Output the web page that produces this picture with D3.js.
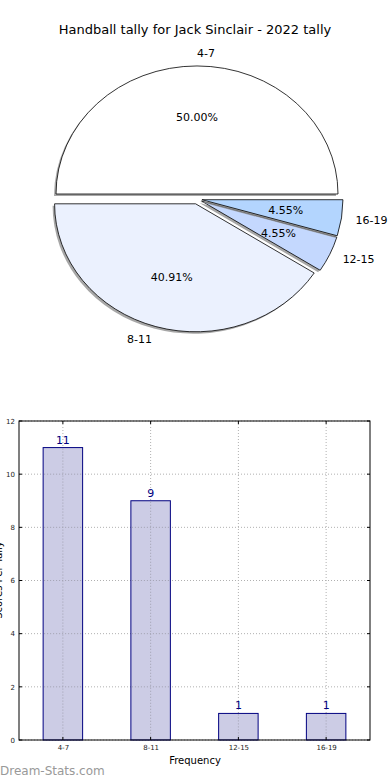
<!DOCTYPE html>
<html>
<head>
<meta charset="utf-8">
<script src="https://cdn.jsdelivr.net/npm/d3@7"></script>
<style>
  body { margin: 0; background: #fff; }
  svg text { font-family: "DejaVu Sans", sans-serif; }
</style>
</head>
<body>
<div id="chart"></div>
<script>
// tally data
var categories = ["4-7", "8-11", "12-15", "16-19"];
var counts = [11, 9, 1, 1];
var pieColors = ["#ffffff", "#ebf1fe", "#c4d8fe", "#b3d5fe"];
var yTicks = [0, 2, 4, 6, 8, 10, 12];

var W = 390, H = 780;
var svg = d3.select("#chart").append("svg")
  .attr("width", W).attr("height", H);

svg.append("text")
  .attr("x", 195).attr("y", 34)
  .attr("text-anchor", "middle")
  .attr("font-size", 13)
  .text("Handball tally for Jack Sinclair - 2022 tally");

// ---- pie ----
var cx = 197, cy = 199, rx = 141, ry = 128, explode = 5;
var total = d3.sum(counts);
var pie = d3.pie().sort(null).startAngle(Math.PI / 2).endAngle(Math.PI / 2 - 2 * Math.PI);
var arcs = pie(counts);
var arc = d3.arc().innerRadius(0).outerRadius(rx);

var pieG = svg.append("g");

arcs.forEach(function (d, i) {
  var mid = (d.startAngle + d.endAngle) / 2;
  var ux = Math.sin(mid), uy = -Math.cos(mid);
  var ox = cx + ux * explode, oy = cy + uy * explode;

  // shadow
  pieG.append("path")
    .attr("d", arc(d))
    .attr("transform", "translate(" + (ox - 2) + "," + (oy + 2) + ") scale(1," + (ry / rx) + ")")
    .attr("fill", "#8a8a8a")
    .attr("opacity", 0.75);

  pieG.append("path")
    .attr("d", arc(d))
    .attr("transform", "translate(" + ox + "," + oy + ") scale(1," + (ry / rx) + ")")
    .attr("fill", pieColors[i])
    .attr("stroke", "#000")
    .attr("stroke-width", 0.8)
    .attr("vector-effect", "non-scaling-stroke");

  // category label at 1.1 r, left/right aligned like matplotlib
  var lx = ox + ux * rx * 1.1, ly = oy + uy * ry * 1.1;
  pieG.append("text")
    .attr("x", lx).attr("y", ly)
    .attr("dy", "0.35em")
    .attr("font-size", 11)
    .attr("text-anchor", ux >= 0 ? "start" : "end")
    .text(categories[i]);

  // percentage at 0.6 r
  pieG.append("text")
    .attr("x", ox + ux * rx * 0.6).attr("y", oy + uy * ry * 0.6)
    .attr("dy", "0.35em")
    .attr("font-size", 11)
    .attr("text-anchor", "middle")
    .text((counts[i] / total * 100).toFixed(2) + "%");
});

// ---- bar chart ----
var plotL = 19, plotR = 370, plotT = 421, plotB = 740;
var x = d3.scaleLinear().domain([-0.5, 3.5]).range([plotL, plotR]);
var y = d3.scaleLinear().domain([0, 12]).range([plotB, plotT]);
var barW = x(0.45) - x(0);

var barG = svg.append("g");

// grid
barG.selectAll(".hgrid").data(yTicks).enter().append("line")
  .attr("x1", plotL).attr("x2", plotR)
  .attr("y1", function (d) { return y(d); }).attr("y2", function (d) { return y(d); })
  .attr("stroke", "#b0b0b0").attr("stroke-width", 1).attr("stroke-dasharray", "1,2");
barG.selectAll(".vgrid").data(categories).enter().append("line")
  .attr("x1", function (d, i) { return x(i); }).attr("x2", function (d, i) { return x(i); })
  .attr("y1", plotT).attr("y2", plotB)
  .attr("stroke", "#b0b0b0").attr("stroke-width", 1).attr("stroke-dasharray", "1,2");

// bars
barG.selectAll(".bar").data(counts).enter().append("rect")
  .attr("x", function (d, i) { return x(i) - barW / 2; })
  .attr("y", function (d) { return y(d); })
  .attr("width", barW)
  .attr("height", function (d) { return plotB - y(d); })
  .attr("fill", "#ccccE5")
  .attr("stroke", "#000080")
  .attr("stroke-width", 1);

// grid drawn over the bars too
barG.selectAll(".vgrid2").data(counts).enter().append("line")
  .attr("x1", function (d, i) { return x(i); }).attr("x2", function (d, i) { return x(i); })
  .attr("y1", function (d) { return y(d) + 1; }).attr("y2", plotB)
  .attr("stroke", "#a0a0b0").attr("stroke-width", 1).attr("stroke-dasharray", "1,2");
yTicks.forEach(function (t) {
  counts.forEach(function (c, i) {
    if (c > t && t > 0) {
      barG.append("line")
        .attr("x1", x(i) - barW / 2 + 1).attr("x2", x(i) + barW / 2 - 1)
        .attr("y1", y(t)).attr("y2", y(t))
        .attr("stroke", "#a0a0b0").attr("stroke-width", 1).attr("stroke-dasharray", "1,2");
    }
  });
});

// value labels
barG.selectAll(".val").data(counts).enter().append("text")
  .attr("x", function (d, i) { return x(i); })
  .attr("y", function (d) { return y(d) - 4; })
  .attr("text-anchor", "middle")
  .attr("font-size", 11)
  .attr("fill", "#000080")
  .text(function (d) { return d; });

// frame
barG.append("rect")
  .attr("x", plotL).attr("y", plotT)
  .attr("width", plotR - plotL).attr("height", plotB - plotT)
  .attr("fill", "none").attr("stroke", "#000").attr("stroke-width", 1);

// axes tick labels
var yAxis = d3.axisLeft(y).tickValues(yTicks).tickSize(0).tickPadding(4);
barG.append("g").attr("transform", "translate(" + plotL + ",0)").call(yAxis)
  .call(function (g) { g.select(".domain").remove(); })
  .selectAll("text").attr("font-size", 7).attr("fill", "#222")
  .style("font-family", "DejaVu Sans, sans-serif");

var xAxis = d3.axisBottom(x).tickValues([0, 1, 2, 3])
  .tickFormat(function (d) { return categories[d]; }).tickSize(0).tickPadding(5);
barG.append("g").attr("transform", "translate(0," + plotB + ")").call(xAxis)
  .call(function (g) { g.select(".domain").remove(); })
  .selectAll("text").attr("font-size", 7).attr("fill", "#222")
  .style("font-family", "DejaVu Sans, sans-serif");

// inner tick marks
yTicks.forEach(function (t) {
  barG.append("line").attr("x1", plotL).attr("x2", plotL + 3).attr("y1", y(t)).attr("y2", y(t)).attr("stroke", "#000");
  barG.append("line").attr("x1", plotR - 3).attr("x2", plotR).attr("y1", y(t)).attr("y2", y(t)).attr("stroke", "#000");
});
[0, 1, 2, 3].forEach(function (i) {
  barG.append("line").attr("x1", x(i)).attr("x2", x(i)).attr("y1", plotB - 3).attr("y2", plotB).attr("stroke", "#000");
  barG.append("line").attr("x1", x(i)).attr("x2", x(i)).attr("y1", plotT).attr("y2", plotT + 3).attr("stroke", "#000");
});

svg.append("text")
  .attr("x", 195).attr("y", 764)
  .attr("text-anchor", "middle")
  .attr("font-size", 10)
  .text("Frequency");

// y label is clipped by the left edge, as in the reference
svg.append("text")
  .attr("transform", "translate(2,580) rotate(-90)")
  .attr("text-anchor", "middle")
  .attr("font-size", 10)
  .text("Scores Per Tally");

svg.append("text")
  .attr("x", 0).attr("y", 775)
  .attr("font-size", 12)
  .attr("fill", "#999")
  .text("Dream-Stats.com");
</script>
</body>
</html>
